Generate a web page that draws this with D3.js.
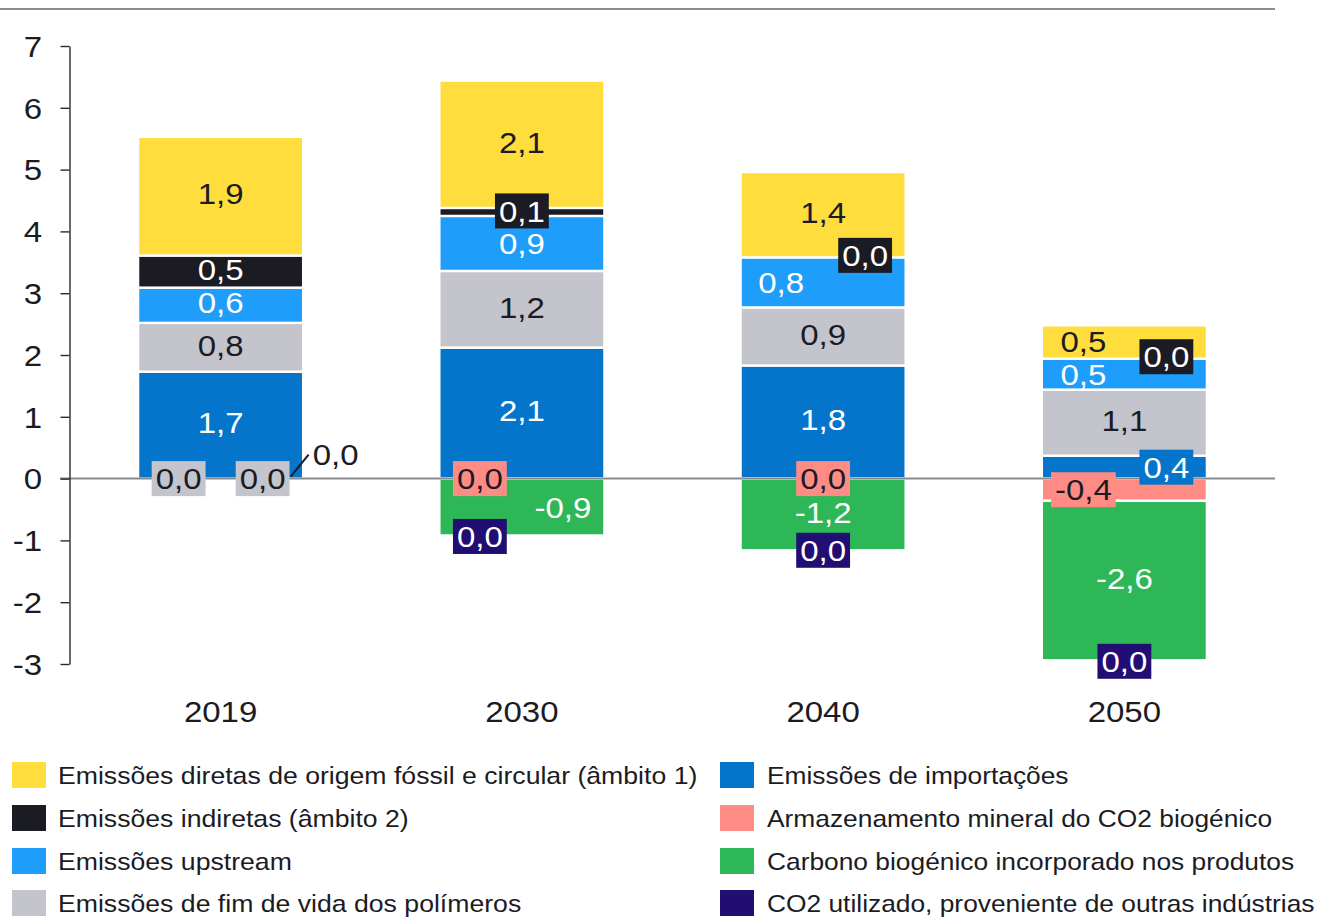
<!DOCTYPE html>
<html>
<head>
<meta charset="utf-8">
<script src="https://cdn.jsdelivr.net/npm/d3@7"></script>
<style>
html,body{margin:0;padding:0;background:#fff;}
svg{display:block;font-family:"Liberation Sans",Arial,sans-serif;}
</style>
</head>
<body>
<svg id="chart" width="1317" height="917"></svg>
<script>
// ---- data ----
const years = ["2019", "2030", "2040", "2050"];
const yTicks = [-3, -2, -1, 0, 1, 2, 3, 4, 5, 6, 7];

const seriesKeys = ["importacoes", "fimVida", "upstream", "indiretas", "diretas", "armazenamento", "carbono", "co2"];
const positiveKeys = ["importacoes", "fimVida", "upstream", "indiretas", "diretas"];
const seriesNames = {
  diretas: "Emissões diretas de origem fóssil e circular (âmbito 1)",
  indiretas: "Emissões indiretas (âmbito 2)",
  upstream: "Emissões upstream",
  fimVida: "Emissões de fim de vida dos polímeros",
  importacoes: "Emissões de importações",
  armazenamento: "Armazenamento mineral do CO2 biogénico",
  carbono: "Carbono biogénico incorporado nos produtos",
  co2: "CO2 utilizado, proveniente de outras indústrias"
};
const diretas       = [1.92, 2.06, 1.38, 0.54];
const indiretas     = [0.52, 0.13, 0.00, 0.00];
const upstream      = [0.57, 0.89, 0.81, 0.50];
const fimVida       = [0.79, 1.24, 0.94, 1.07];
const importacoes   = [1.73, 2.12, 1.83, 0.37];
const armazenamento = [0.00, 0.00, 0.00, -0.36];
const carbono       = [0.00, -0.92, -1.16, -2.58];
const co2           = [0.00, 0.00, 0.00, 0.00];

const legendLeft  = ["diretas", "indiretas", "upstream", "fimVida"];
const legendRight = ["importacoes", "armazenamento", "carbono", "co2"];

// ---- styles ----
const colors = {
  diretas: "#FFDD3D", indiretas: "#1B1B24", upstream: "#1E9DFA", fimVida: "#C4C4CC",
  importacoes: "#0575CB", armazenamento: "#FF8B85", carbono: "#2DB757", co2: "#220D73"
};
const labelColor = {
  diretas: "#1B1B24", indiretas: "#fff", upstream: "#fff", fimVida: "#1B1B24",
  importacoes: "#fff", armazenamento: "#1B1B24", carbono: "#fff", co2: "#fff"
};
// label placement tweaks: [dx, dy, box, boxColor, leader]
const labelTweaks = {
  "2019": {armazenamento: [-42, 0, true, "#C4C4CC"], co2: [42, 0, true, "#C4C4CC"], carbono: [115, -24, false, null, true]},
  "2030": {indiretas: [0, -1, true], upstream: [0, 0], armazenamento: [-42, 0, true], carbono: [41, 0], co2: [-42, 1, true]},
  "2040": {indiretas: [42, -2, true], upstream: [-42, 0], armazenamento: [0, 0, true], co2: [0, 0, true]},
  "2050": {diretas: [-41, -1], indiretas: [42, -2, true], upstream: [-41, 0], importacoes: [42, 0, true],
           armazenamento: [-41, 0, true], co2: [0, 1, true]}
};

const dataVals = {diretas, indiretas, upstream, fimVida, importacoes, armazenamento, carbono, co2};
const table = years.map((y, i) => {
  const o = {year: y};
  seriesKeys.forEach(k => o[k] = dataVals[k][i]);
  return o;
});

const SX = 1.1;        // horizontal text stretch
const FS = 30;         // chart font size
const TXT = "#1B1B24";

const svg = d3.select("#chart");
const x = d3.scaleBand().domain(years).range([70, 1275]).paddingInner(0.452).paddingOuter(0.226);
const y = d3.scaleLinear().domain([-3, 7]).range([664, 46]);

const loc = d3.formatLocale({decimal: ",", thousands: ".", grouping: [3], currency: ["", "€"], minus: "-"});
const fmt = loc.format(".1f");

function stretchedText(g, tx, ty, str, opts) {
  return g.append("text")
    .attr("transform", `translate(${tx},${ty}) scale(${opts.sx || SX},1)`)
    .attr("text-anchor", opts.anchor || "middle")
    .attr("font-size", opts.size || FS)
    .attr("fill", opts.fill || TXT)
    .text(str);
}

// top rule
svg.append("line").attr("x1", 0).attr("x2", 1275).attr("y1", 9).attr("y2", 9)
  .attr("stroke", "#8C8C96").attr("stroke-width", 2);

// stacks: sign decided by series group so zero segments sit at the stack edge
function offsetBySign(series, order) {
  const m = series[0].length;
  for (let j = 0; j < m; ++j) {
    let yp = 0, yn = 0;
    for (const i of order) {
      const d = series[i][j];
      const dy = d[1] - d[0];
      if (dy > 0 || (dy === 0 && positiveKeys.includes(series[i].key))) { d[0] = yp; d[1] = yp += dy; }
      else { d[1] = yn; d[0] = yn += dy; }
    }
  }
}
const stack = d3.stack().keys(seriesKeys).offset(offsetBySign);
const stacked = stack(table);

const barsG = svg.append("g");
stacked.forEach(s => {
  barsG.selectAll(null).data(s).enter().append("rect")
    .attr("x", d => x(d.data.year))
    .attr("width", x.bandwidth())
    .attr("y", d => y(Math.max(d[0], d[1])))
    .attr("height", d => Math.abs(y(d[0]) - y(d[1])))
    .attr("fill", colors[s.key])
    .attr("stroke", "#fff").attr("stroke-width", 2.4);
});

// zero line
svg.append("line").attr("x1", 60).attr("x2", 1275).attr("y1", y(0)).attr("y2", y(0))
  .attr("stroke", "#8A8A8F").attr("stroke-width", 2);

// y axis
const yAxis = svg.append("g").attr("transform", "translate(69.5,0)")
  .call(d3.axisLeft(y).tickValues(yTicks).tickSize(9).tickSizeOuter(0).tickFormat(d => String(d)));
yAxis.select(".domain").attr("stroke", "#2A2A30").attr("stroke-width", 1.4);
yAxis.selectAll(".tick line").attr("stroke", "#2A2A30").attr("stroke-width", 1.4);
yAxis.selectAll(".tick text").remove();
yTicks.forEach(v => stretchedText(svg, 42, y(v) + FS * 0.358, String(v), {anchor: "end"}));

// x labels
years.forEach(yr => stretchedText(svg, x(yr) + x.bandwidth() / 2, 711 + FS * 0.358, yr, {}));

// data labels
const labG = svg.append("g");
stacked.forEach(s => {
  s.forEach(d => {
    const yr = d.data.year;
    const tw = (labelTweaks[yr] || {})[s.key] || [0, -2.5];
    const cx = x(yr) + x.bandwidth() / 2 + tw[0];
    const cy = (y(d[0]) + y(d[1])) / 2 + tw[1];
    const str = fmt(d.data[s.key]);
    const isBox = !!tw[2];
    const boxColor = tw[3] || colors[s.key];
    let fill = labelColor[s.key];
    if (tw[3] || tw[4]) fill = TXT;
    const g = labG.append("g");
    const t = stretchedText(g, cx, cy + FS * 0.358, str, {fill});
    if (isBox) {
      const w = t.node().getComputedTextLength() * SX + 8;
      g.insert("rect", "text").attr("x", cx - w / 2).attr("y", cy - 17.5)
        .attr("width", w).attr("height", 35).attr("fill", boxColor);
    }
    if (tw[4]) {
      g.append("line").attr("x1", x(yr) + x.bandwidth() / 2 + 70).attr("y1", y(0) - 2)
        .attr("x2", cx - 27).attr("y2", cy)
        .attr("stroke", TXT).attr("stroke-width", 2);
    }
  });
});

// legend
const legRows = [775, 818, 861, 903];
function drawLegend(keys, sx, tx, stretch) {
  keys.forEach((k, i) => {
    svg.append("rect").attr("x", sx).attr("y", legRows[i] - 13).attr("width", 34).attr("height", 26)
      .attr("fill", colors[k]);
    stretchedText(svg, tx, legRows[i] + 24 * 0.358, seriesNames[k], {anchor: "start", size: 24, sx: stretch});
  });
}
drawLegend(legendLeft, 12, 58, 1.11);
drawLegend(legendRight, 720, 767, 1.098);
</script>
</body>
</html>
